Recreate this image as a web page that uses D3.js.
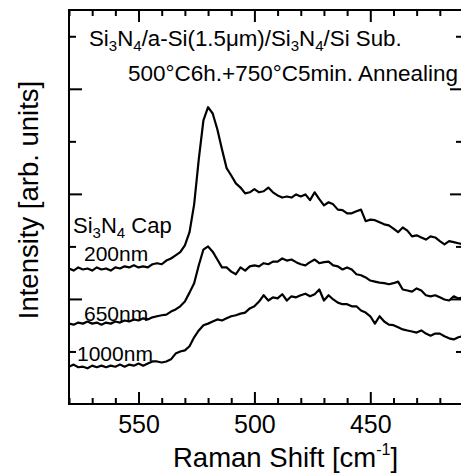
<!DOCTYPE html>
<html><head><meta charset="utf-8">
<script src="https://cdn.jsdelivr.net/npm/d3@7"></script>
<style>body{margin:0;background:#fff} svg{display:block} text{font-family:"Liberation Sans",Arial,Helvetica,sans-serif;fill:#000}</style>
</head><body>
<script>
// Raman shift grid (cm^-1)
const ramanShift = [580,578,576,574,572,570,568,566,564,562,560,558,556,554,552,550,548,546,544,542,540,538,536,534,532,530,528,526,524,522,520,518,516,514,512,510,508,506,504,502,500,498,496,494,492,490,488,486,484,482,480,478,476,474,472,470,468,466,464,462,460,458,456,454,452,450,448,446,444,442,440,438,436,434,432,430,428,426,424,422,420,418,416,414,412,410];
// Intensities (arb. units, offset traces)
const cap200 = [2.58,2.54,2.60,2.56,2.58,2.54,2.60,2.56,2.58,2.54,
  2.60,2.58,2.62,2.60,2.64,2.60,2.62,2.60,2.66,2.68,
  2.66,2.73,2.77,2.83,2.89,3.02,3.27,3.80,4.66,5.40,
  5.65,5.53,5.23,4.85,4.49,4.35,4.20,4.12,4.01,4.03,
  4.09,4.03,4.05,4.12,4.03,3.97,3.93,3.95,3.93,3.99,
  3.95,3.99,3.88,4.03,3.90,3.78,3.84,3.80,3.70,3.69,
  3.63,3.63,3.67,3.70,3.48,3.51,3.50,3.46,3.42,3.40,
  3.34,3.27,3.36,3.30,3.19,3.21,3.17,3.13,3.19,3.17,
  3.10,3.04,3.10,3.08,3.06,3.04];
const cap650 = [1.53,1.51,1.55,1.53,1.57,1.53,1.55,1.51,1.55,1.53,
  1.57,1.55,1.59,1.57,1.61,1.59,1.63,1.61,1.65,1.67,
  1.69,1.70,1.76,1.80,1.86,1.95,2.12,2.30,2.64,2.94,
  3.00,2.90,2.75,2.60,2.60,2.52,2.47,2.60,2.54,2.62,
  2.64,2.62,2.68,2.66,2.71,2.71,2.77,2.73,2.75,2.70,
  2.66,2.64,2.70,2.75,2.68,2.70,2.71,2.64,2.62,2.56,
  2.60,2.56,2.47,2.45,2.41,2.35,2.33,2.31,2.30,2.28,
  2.30,2.33,2.18,2.16,2.14,2.20,2.16,2.07,2.05,2.07,
  2.03,1.99,1.97,2.05,2.01,2.03];
const cap1000 = [0.71,0.75,0.70,0.71,0.68,0.73,0.70,0.73,0.70,0.73,
  0.71,0.75,0.71,0.75,0.73,0.77,0.73,0.77,0.81,0.81,
  0.79,0.81,0.85,0.96,1.00,1.02,1.10,1.27,1.40,1.50,
  1.53,1.57,1.61,1.59,1.63,1.67,1.69,1.72,1.74,1.82,
  1.86,1.95,2.07,1.97,2.03,2.01,2.09,1.97,2.05,2.03,
  2.07,2.10,2.05,2.09,2.18,1.97,2.07,1.99,1.93,1.90,
  1.90,1.86,1.86,1.78,1.74,1.67,1.53,1.67,1.57,1.51,
  1.50,1.46,1.42,1.40,1.38,1.36,1.40,1.34,1.30,1.34,
  1.34,1.29,1.25,1.23,1.27,1.29];
const seriesLabels = ["200nm","650nm","1000nm"];
const xMajorTicks = [550,500,450];
const xMinorTicks = [580,570,560,540,530,520,510,490,480,470,460,440,430,420,410];
const yMajorTicks = [2,4,6];
const yMinorTicks = [1,3,5,7];

const W = 461, H = 476;
const L = 69, R = 463, T = 10, B = 404;
const x = d3.scaleLinear().domain([580,410]).range([L,R]);
const y = d3.scaleLinear().domain([0,7.5]).range([B,T]);

const svg = d3.select("body").append("svg").attr("width",W).attr("height",H);
svg.append("defs").append("clipPath").attr("id","clip")
  .append("rect").attr("x",L).attr("y",T).attr("width",R-L).attr("height",B-T);

const series = [cap200, cap650, cap1000];
const line = d3.line().x((d,i)=>x(ramanShift[i])).y(d=>y(d));
svg.append("g").attr("clip-path","url(#clip)").selectAll("path").data(series).join("path")
  .attr("d", d=>line(d)).attr("fill","none").attr("stroke","#000")
  .attr("stroke-width",2.2).attr("stroke-linejoin","round");

// axes
function styleAxis(g){ g.select(".domain").remove(); g.selectAll("line").attr("stroke","#000").attr("stroke-width",2); }
svg.append("g").attr("transform",`translate(0,${B})`)
  .call(d3.axisBottom(x).tickValues(xMajorTicks).tickSize(-12).tickPadding(11).tickFormat(d3.format("d")))
  .call(styleAxis).call(g=>g.selectAll("text").attr("font-size",25).attr("font-family","Liberation Sans, Arial, sans-serif").attr("fill","#000"));
svg.append("g").attr("transform",`translate(0,${B})`)
  .call(d3.axisBottom(x).tickValues(xMinorTicks).tickSize(-6).tickFormat(""))
  .call(styleAxis);
svg.append("g").attr("transform",`translate(0,${T})`)
  .call(d3.axisTop(x).tickValues(xMajorTicks).tickSize(-12).tickFormat(""))
  .call(styleAxis);
svg.append("g").attr("transform",`translate(0,${T})`)
  .call(d3.axisTop(x).tickValues(xMinorTicks).tickSize(-6).tickFormat(""))
  .call(styleAxis);
svg.append("g").attr("transform",`translate(${L},0)`)
  .call(d3.axisLeft(y).tickValues(yMajorTicks).tickSize(-13).tickFormat(""))
  .call(styleAxis);
svg.append("g").attr("transform",`translate(${L},0)`)
  .call(d3.axisLeft(y).tickValues(yMinorTicks).tickSize(-7).tickFormat(""))
  .call(styleAxis);
svg.append("g").attr("transform",`translate(${R},0)`)
  .call(d3.axisRight(y).tickValues(yMajorTicks).tickSize(-13).tickFormat(""))
  .call(styleAxis);
svg.append("g").attr("transform",`translate(${R},0)`)
  .call(d3.axisRight(y).tickValues(yMinorTicks).tickSize(-7).tickFormat(""))
  .call(styleAxis);
svg.append("rect").attr("x",L).attr("y",T).attr("width",R-L).attr("height",B-T)
  .attr("fill","none").attr("stroke","#000").attr("stroke-width",2);

// axis titles
const xt = svg.append("text").attr("x",173).attr("y",467).attr("font-size",27.5);
xt.append("tspan").text("Raman Shift [cm");
xt.append("tspan").attr("dy",-12).attr("font-size",16).text("-1");
xt.append("tspan").attr("dy",12).text("]");
svg.append("text").attr("transform","translate(38,200) rotate(-90)")
  .attr("text-anchor","middle").attr("font-size",27.5).text("Intensity [arb. units]");

// annotations
const t1 = svg.append("text").attr("x",89).attr("y",46).attr("font-size",22.3);
t1.append("tspan").text("Si");
t1.append("tspan").attr("font-size",15).attr("dy",5).text("3");
t1.append("tspan").attr("dy",-5).text("N");
t1.append("tspan").attr("font-size",15).attr("dy",5).text("4");
t1.append("tspan").attr("dy",-5).text("/a-Si(1.5μm)/Si");
t1.append("tspan").attr("font-size",15).attr("dy",5).text("3");
t1.append("tspan").attr("dy",-5).text("N");
t1.append("tspan").attr("font-size",15).attr("dy",5).text("4");
t1.append("tspan").attr("dy",-5).text("/Si Sub.");
svg.append("text").attr("x",128).attr("y",81).attr("font-size",22.5).text("500°C6h.+750°C5min. Annealing");

const t3 = svg.append("text").attr("x",73).attr("y",233).attr("font-size",22);
t3.append("tspan").text("Si");
t3.append("tspan").attr("font-size",15).attr("dy",5).text("3");
t3.append("tspan").attr("dy",-5).text("N");
t3.append("tspan").attr("font-size",15).attr("dy",5).text("4");
t3.append("tspan").attr("dy",-5).text(" Cap");

const labelPos = [[84,261],[84,321],[77,361]];
seriesLabels.forEach((s,i)=>{
  svg.append("text").attr("x",labelPos[i][0]).attr("y",labelPos[i][1]).attr("font-size",21).text(s);
});
</script>
</body></html>
